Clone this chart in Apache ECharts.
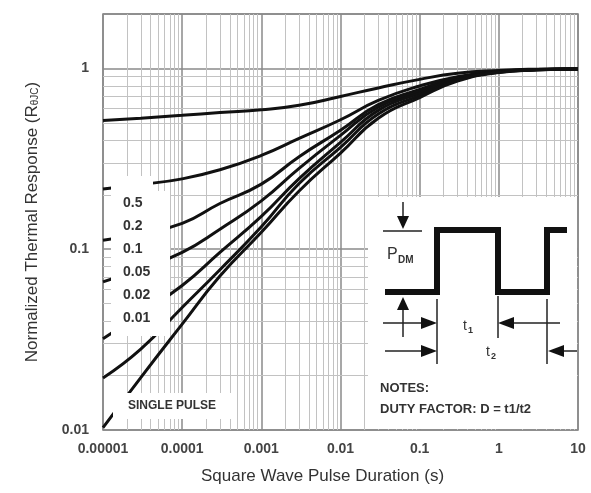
<!DOCTYPE html>
<html>
<head>
<meta charset="utf-8">
<script src="https://cdn.jsdelivr.net/npm/echarts@6/dist/echarts.min.js"></script>
<style>
html, body { margin: 0; padding: 0; background: #fff; }
#chart { width: 591px; height: 493px; }
</style>
</head>
<body>
<div id="chart"></div>
<script>
// pulse durations (s) shared by every curve
var durations = [0.00001, 0.00003, 0.0001, 0.0003, 0.001, 0.003, 0.01, 0.03, 0.1, 0.3, 1, 3, 10];
// normalized thermal response per duty factor
var dutyNames = ['0.5', '0.2', '0.1', '0.05', '0.02', '0.01', 'SINGLE PULSE'];
var d050 = [0.515, 0.53, 0.55, 0.57, 0.59, 0.625, 0.70, 0.78, 0.87, 0.94, 0.975, 0.99, 0.995];
var d020 = [0.215, 0.228, 0.245, 0.275, 0.33, 0.41, 0.52, 0.665, 0.80, 0.90, 0.965, 0.985, 0.993];
var d010 = [0.112, 0.122, 0.139, 0.179, 0.229, 0.325, 0.455, 0.63, 0.765, 0.89, 0.96, 0.985, 0.993];
var d005 = [0.066, 0.078, 0.096, 0.129, 0.185, 0.28, 0.426, 0.61, 0.746, 0.88, 0.958, 0.985, 0.993];
var d002 = [0.032, 0.044, 0.063, 0.096, 0.152, 0.246, 0.39, 0.586, 0.73, 0.87, 0.955, 0.983, 0.993];
var d001 = [0.0194, 0.028, 0.0476, 0.077, 0.133, 0.231, 0.366, 0.56, 0.71, 0.86, 0.952, 0.982, 0.993];
var single = [0.0103, 0.0195, 0.0385, 0.071, 0.124, 0.21, 0.34, 0.53, 0.69, 0.85, 0.95, 0.98, 0.993];
var curves = [d050, d020, d010, d005, d002, d001, single];

var xTickLabels = ['0.00001', '0.0001', '0.001', '0.01', '0.1', '1', '10'];
var yTickLabels = ['0.01', '0.1', '1'];

var X_MIN = 0.00001, X_MAX = 10, Y_MIN = 0.01, Y_MAX = 2;
var FONT = '"Liberation Sans", Arial, sans-serif';

// minor grid lines (2..9 in each decade)
var gridLines = [];
for (var e = -5; e < 1; e++) {
    for (var k = 2; k <= 9; k++) {
        var v = Number((k * Math.pow(10, e)).toPrecision(3));
        gridLines.push({ coords: [[v, Y_MIN], [v, Y_MAX]] });
        if (v > Y_MIN && v < Y_MAX) gridLines.push({ coords: [[X_MIN, v], [X_MAX, v]] });
    }
}

function tickLabel(list, offset) {
    return function (v) {
        var l = Math.log10(v);
        var r = Math.round(l);
        if (Math.abs(l - r) > 0.01) return '';
        return list[r + offset] || '';
    };
}

var series = [{
    name: 'grid',
    type: 'lines',
    coordinateSystem: 'cartesian2d',
    silent: true,
    z: 1,
    lineStyle: { color: '#c2c2c2', width: 1, opacity: 1 },
    data: gridLines
}];
for (var i = 0; i < curves.length; i++) {
    var pts = [];
    for (var j = 0; j < durations.length; j++) pts.push([durations[j], curves[i][j]]);
    series.push({
        name: dutyNames[i],
        type: 'line',
        data: pts,
        smooth: 0.5,
        showSymbol: false,
        z: 3,
        lineStyle: { color: '#111', width: 3 }
    });
}

// inset annotation + label patches (pixel layout)
function txt(x, y, text, size, weight, align) {
    return {
        type: 'text', x: x, y: y, z: 120,
        style: {
            text: text, fill: '#333',
            font: (weight || 'bold') + ' ' + size + 'px ' + FONT,
            align: align || 'left', verticalAlign: 'middle'
        }
    };
}
function seg(x1, y1, x2, y2, w) {
    return { type: 'line', z: 110, shape: { x1: x1, y1: y1, x2: x2, y2: y2 }, style: { stroke: '#222', lineWidth: w || 1.5 } };
}
function tri(p) {
    return { type: 'polygon', z: 110, shape: { points: p }, style: { fill: '#111' } };
}

var graphics = [
    { type: 'rect', z: 100, shape: { x: 111, y: 191, width: 59, height: 145 }, style: { fill: '#fff' } },
    { type: 'rect', z: 100, shape: { x: 111, y: 176, width: 42, height: 16 }, style: { fill: '#fff' } },
    { type: 'rect', z: 100, shape: { x: 113, y: 393, width: 123, height: 26 }, style: { fill: '#fff' } },
    { type: 'rect', z: 100, shape: { x: 368, y: 197, width: 209, height: 232 }, style: { fill: '#fff' } },
    // square wave
    { type: 'polyline', z: 110, shape: { points: [[385, 292], [437, 292], [437, 230], [498, 230], [498, 292], [547, 292], [547, 230], [567, 230]] },
      style: { stroke: '#111', lineWidth: 6, fill: null, lineJoin: 'miter' } },
    // P_DM arrows
    seg(403, 202, 403, 220), tri([[397, 216], [409, 216], [403, 229]]),
    seg(383, 231, 422, 231),
    seg(403, 306, 403, 337), tri([[397, 310], [409, 310], [403, 297]]),
    // t1
    seg(383, 323, 425, 323), tri([[421, 317], [421, 329], [437, 323]]),
    seg(510, 323, 560, 323), tri([[514, 317], [514, 329], [498, 323]]),
    seg(437, 299, 437, 364), seg(498, 296, 498, 338), seg(547, 299, 547, 364),
    // t2
    seg(385, 351, 425, 351), tri([[421, 345], [421, 357], [437, 351]]),
    seg(560, 351, 577, 351), tri([[564, 345], [564, 357], [548, 351]]),
    txt(387, 255, 'P', 16, 'normal'), txt(398, 260, 'DM', 10, 'bold'),
    txt(463, 326, 't', 14, 'normal'), txt(468, 331, '1', 9, 'bold'),
    txt(486, 352, 't', 14, 'normal'), txt(491, 357, '2', 9, 'bold'),
    txt(380, 388, 'NOTES:', 13),
    txt(380, 409, 'DUTY FACTOR: D = t1/t2', 13),
    txt(128, 406, 'SINGLE PULSE', 12)
];
var leftLabelY = [203, 226, 249, 272, 295, 318];
for (var m = 0; m < 6; m++) graphics.push(txt(123, leftLabelY[m], dutyNames[m], 14));

var chart = echarts.init(document.getElementById('chart'), null, { renderer: 'canvas' });
chart.setOption({
    animation: false,
    backgroundColor: '#fff',
    grid: { left: 103, right: 13, top: 14, bottom: 63, show: true, borderColor: '#808080', borderWidth: 1.5 },
    xAxis: {
        type: 'log', logBase: 10, min: X_MIN, max: X_MAX,
        name: 'Square Wave Pulse Duration (s)',
        nameLocation: 'middle', nameGap: 38,
        nameTextStyle: { fontFamily: FONT, fontSize: 17, color: '#333', padding: [0, 36, 0, 0] },
        axisLine: { show: false },
        axisTick: { show: false },
        axisLabel: { formatter: tickLabel(xTickLabels, 5), margin: 12, fontFamily: FONT, fontSize: 14, fontWeight: 'bold', color: '#444' },
        splitLine: { show: true, lineStyle: { color: '#8a8a8a', width: 1.5 } }
    },
    yAxis: {
        type: 'log', logBase: 10, min: Y_MIN, max: Y_MAX,
        name: '{a|Normalized Thermal Response (R}{s|θJC}{a|)}',
        nameLocation: 'middle', nameGap: 62,
        nameTextStyle: {
            color: '#333',
            rich: {
                a: { fontFamily: FONT, fontSize: 17, color: '#333' },
                s: { fontFamily: FONT, fontSize: 10, color: '#333', padding: [6, 0, 0, 0] }
            }
        },
        axisLine: { show: false },
        axisTick: { show: false },
        axisLabel: { formatter: tickLabel(yTickLabels, 2), margin: 14, fontFamily: FONT, fontSize: 14, fontWeight: 'bold', color: '#444' },
        splitLine: { show: true, lineStyle: { color: '#8a8a8a', width: 1.5 } }
    },
    series: series,
    graphic: graphics
});
</script>
</body>
</html>
